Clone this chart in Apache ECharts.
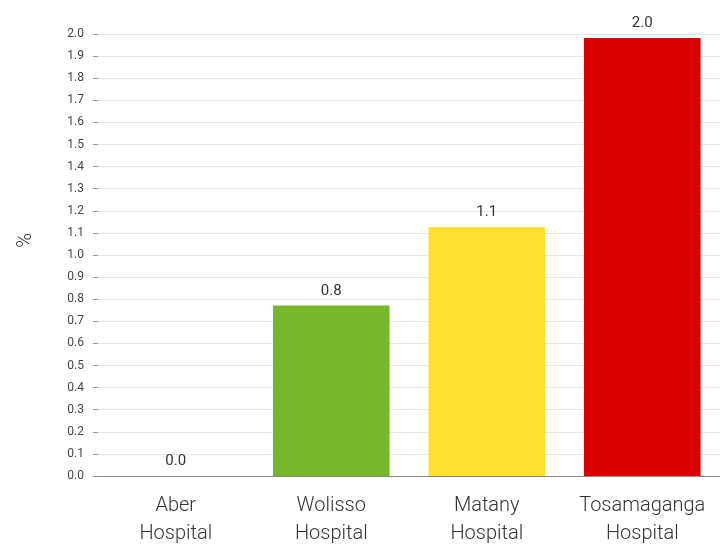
<!DOCTYPE html>
<html><head><meta charset="utf-8">
<script src="https://cdn.jsdelivr.net/npm/echarts@6/dist/echarts.min.js"></script>
<style>html,body{margin:0;padding:0;background:#fff}#c{width:720px;height:548px}</style>
</head><body><div id="c"></div>
<script>
const categories = ["Aber\nHospital", "Wolisso\nHospital", "Matany\nHospital", "Tosamaganga\nHospital"];
const values = [0.0, 0.771, 1.126, 1.982];
const colors = ["#77b82a", "#77b82a", "#fde030", "#d90000"];
const yTicks = {min: 0, max: 2.0, interval: 0.1};
const yName = '%';

const chart = echarts.init(document.getElementById('c'), null, {renderer: 'canvas'});
chart.setOption({
  animation: false,
  textStyle: {fontFamily: 'Roboto'},
  grid: {left: 98, right: -6, top: 34, bottom: 68, containLabel: false},
  graphic: [{
    type: 'text', left: 16, top: 233, rotation: Math.PI / 2,
    style: {text: yName, fontSize: 20, fill: '#333', fontFamily: 'Roboto', fontWeight: 300}
  }],
  xAxis: {
    type: 'category', data: categories,
    axisLine: {lineStyle: {color: '#8a8a8a', width: 1}},
    axisTick: {show: false},
    axisLabel: {interval: 0, hideOverlap: false, fontSize: 20, color: '#333', lineHeight: 28, margin: 16, fontFamily: 'Roboto', fontWeight: 300}
  },
  yAxis: {
    type: 'value', min: yTicks.min, max: yTicks.max, interval: yTicks.interval,
    axisLine: {show: false},
    axisTick: {show: true, length: 5, lineStyle: {color: '#999'}},
    axisLabel: {fontSize: 12, color: '#444', margin: 14, formatter: v => v.toFixed(1), fontFamily: 'Roboto'},
    splitLine: {lineStyle: {color: '#e6e6e6'}}
  },
  series: [{
    type: 'bar', barWidth: '75%',
    data: values.map((v, i) => ({value: v, itemStyle: {color: colors[i]}})),
    label: {show: true, position: 'top', distance: 7, fontSize: 15, color: '#333', fontFamily: 'Roboto', formatter: p => p.value.toFixed(1)}
  }]
});
</script></body></html>
